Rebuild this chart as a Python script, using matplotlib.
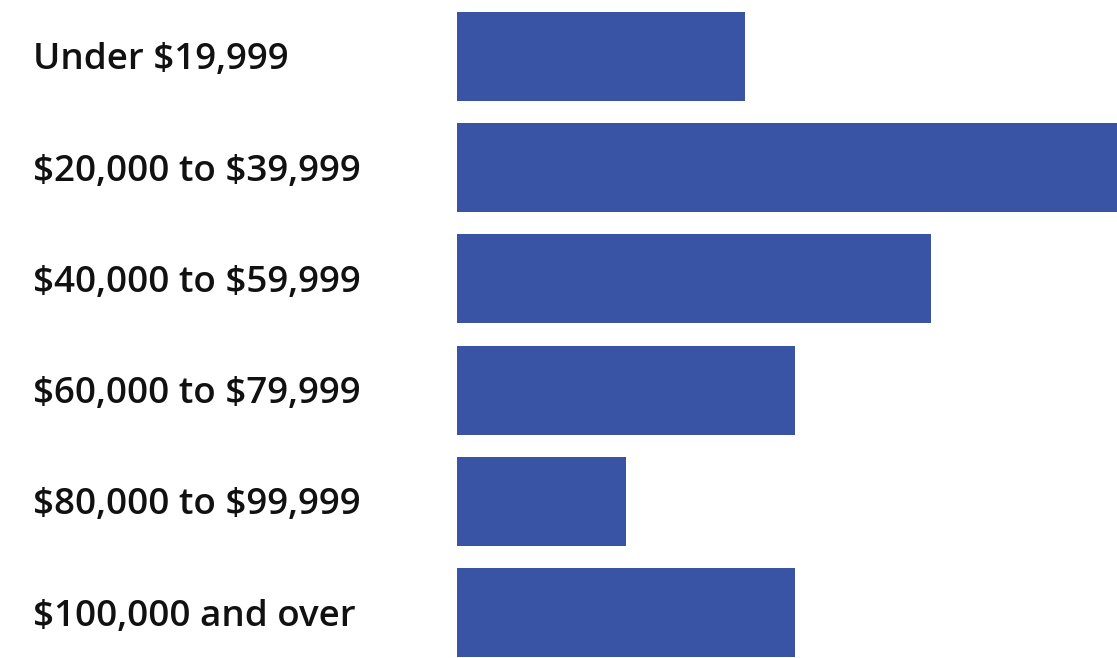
import matplotlib
matplotlib.use("Agg")
from matplotlib import pyplot as plt
from matplotlib import transforms

plt.rcParams["text.parse_math"] = False

categories = ["Under $19,999", "$20,000 to $39,999", "$40,000 to $59,999",
              "$60,000 to $79,999", "$80,000 to $99,999", "$100,000 and over"]
values = [17, 39, 28, 20, 10, 20]

fig = plt.figure(figsize=(11.17, 6.58), dpi=100)
ax = fig.add_axes([457 / 1117, 1 / 658, 1 - 457 / 1117, 645 / 658])

ypos = list(range(len(categories)))[::-1]
ax.barh(ypos, values, height=0.8, color="#3954a4")
ax.set_xlim(0, max(values))
ax.set_ylim(-0.4, len(categories) - 0.6)
ax.axis("off")

# labels, left aligned in figure coords, baseline a bit below bar centre
trans = transforms.blended_transform_factory(fig.transFigure, ax.transData)
trans = transforms.offset_copy(trans, fig=fig, y=-13, units="dots")
for y, lab in zip(ypos, categories):
    fig.text(33 / 1117, y, lab, transform=trans, ha="left", va="baseline",
             fontsize=26.5, fontweight="semibold", family="Open Sans", color="#111111")

fig.savefig("out.png", dpi=100)
